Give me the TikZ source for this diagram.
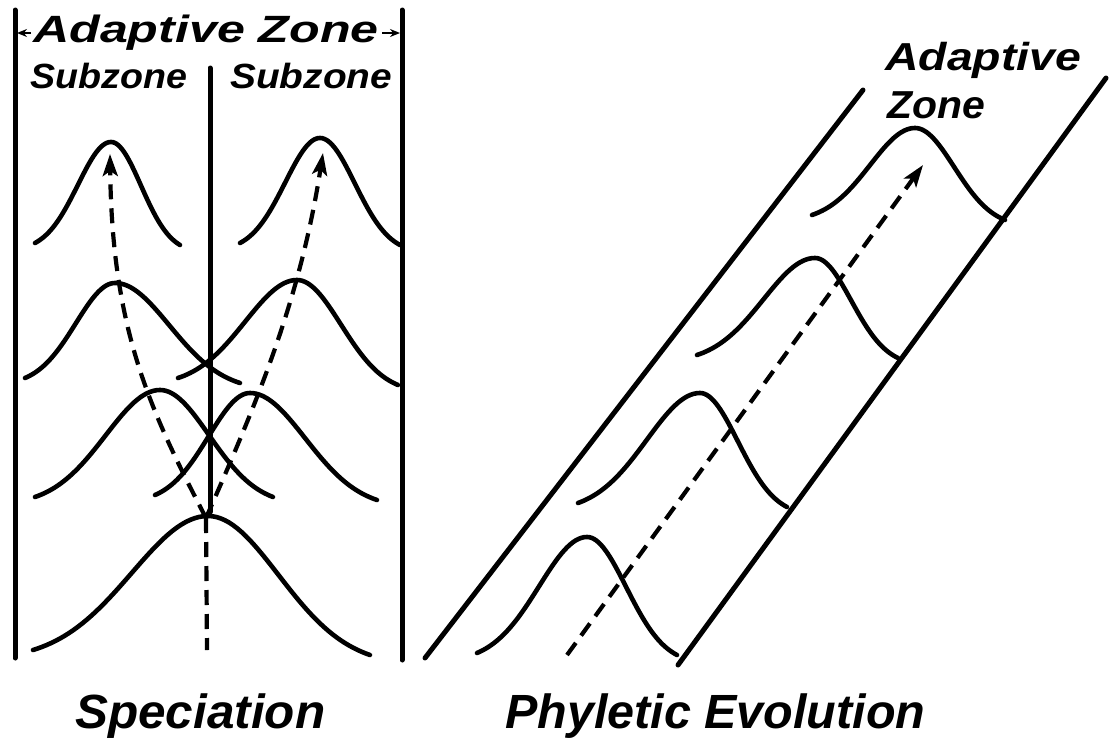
\documentclass[tikz,border=0pt]{standalone}
\usepackage{fontspec}
\usepackage{graphicx}
\setmainfont{Liberation Sans}
\usetikzlibrary{arrows.meta}
\newcommand{\bellcurve}[6]{%
  \draw[curve] plot[domain=-2.3:0, samples=40, variable=\t]
     ({#3+(#3-#1)*(\t)/2.3},{#4+(#2-#4)*(1-exp(-0.5*(\t)*(\t)))/0.9290})
   -- plot[domain=0:2.3, samples=40, variable=\t]
     ({#3+(#5-#3)*(\t)/2.3},{#4+(#6-#4)*(1-exp(-0.5*(\t)*(\t)))/0.9290});}
\begin{document}
\begin{tikzpicture}[x=1pt,y=-1pt,
  frame/.style={line width=5pt, line cap=round},
  curve/.style={line width=4.6pt, line cap=round, line join=round},
  dashedarrow/.style={line width=4.2pt, dash pattern=on 15pt off 9pt, -{Stealth[length=22pt,width=15pt,inset=5pt]}},
  dashline/.style={line width=4.2pt, dash pattern=on 15pt off 9pt},
  smallarrow/.style={line width=2.5pt, -{Stealth[length=10pt,width=8pt]}},
  lbl/.style={font=\bfseries\itshape, inner sep=0pt, anchor=base west},
]
\useasboundingbox (0,0) rectangle (1111,742);

% ---------- Speciation panel ----------
\coordinate (lt) at (15,10);   \coordinate (lb) at (15,658);
\coordinate (rt) at (402,10);  \coordinate (rb) at (402,660);
\coordinate (mt) at (210,68);  \coordinate (mb) at (210,512);
\draw[frame] (lt) -- (lb);
\draw[frame] (rt) -- (rb);
\draw[frame] (mt) -- (mb);

\node[lbl] (az) at (33,42) {\fontsize{38}{38}\selectfont\scalebox{1.32}[1]{Adaptive Zone}};
\coordinate (azl) at (31,33); \coordinate (azlt) at (17,33);
\coordinate (azr) at (382,33); \coordinate (azrt) at (400,33);
\draw[smallarrow] (azl) -- (azlt);
\draw[smallarrow] (azr) -- (azrt);
\node[lbl] (sz1) at (30,88) {\fontsize{35}{35}\selectfont\scalebox{1.075}[1]{Subzone}};
\node[lbl] (sz2) at (230,88) {\fontsize{35}{35}\selectfont\scalebox{1.11}[1]{Subzone}};

\bellcurve{35}{243}{111}{142}{180}{245}
\bellcurve{240}{243}{320}{138}{400}{245}
\bellcurve{25}{378}{115}{283}{240}{383}
\bellcurve{178}{378}{297}{280}{398}{385}
\bellcurve{35}{497}{160}{390}{273}{497}
\bellcurve{155}{495}{250}{393}{377}{500}
\bellcurve{33}{650}{208}{516}{370}{655}

\coordinate (base) at (206,518);
\coordinate (lefttip) at (110,154);
\coordinate (righttip) at (323,153);
\coordinate (vbot) at (207,650);
\draw[dashedarrow] (base) .. controls (150,410) and (112,330) .. (lefttip);
\draw[dashedarrow] (base) .. controls (258,400) and (300,300) .. (righttip);
\draw[dashline] (base) -- (vbot);

\node[lbl] (spec) at (75,728) {\fontsize{48}{48}\selectfont\scalebox{1.03}[1]{Speciation}};

% ---------- Phyletic evolution panel ----------
\coordinate (bl1) at (425,658); \coordinate (bl2) at (863,90);
\coordinate (br1) at (678,665); \coordinate (br2) at (1106,78);
\draw[frame] (bl1) -- (bl2);
\draw[frame] (br1) -- (br2);

\bellcurve{477}{653}{587}{537}{677}{655}
\bellcurve{578}{503}{700}{393}{787}{507}
\bellcurve{697}{355}{815}{258}{898}{358}
\bellcurve{812}{215}{915}{128}{1005}{220}

\coordinate (pstart) at (567,655);
\coordinate (ptip) at (923,165);
\draw[dashedarrow] (pstart) -- (ptip);

\node[lbl] (adz1) at (885,70) {\fontsize{39}{39}\selectfont\scalebox{1.19}[1]{Adaptive}};
\node[lbl] (adz2) at (887,118) {\fontsize{39}{39}\selectfont\scalebox{1.05}[1]{Zone}};

\node[lbl] (phy) at (505,728) {\fontsize{48}{48}\selectfont\scalebox{1.01}[1]{Phyletic Evolution}};
\end{tikzpicture}
\end{document}
